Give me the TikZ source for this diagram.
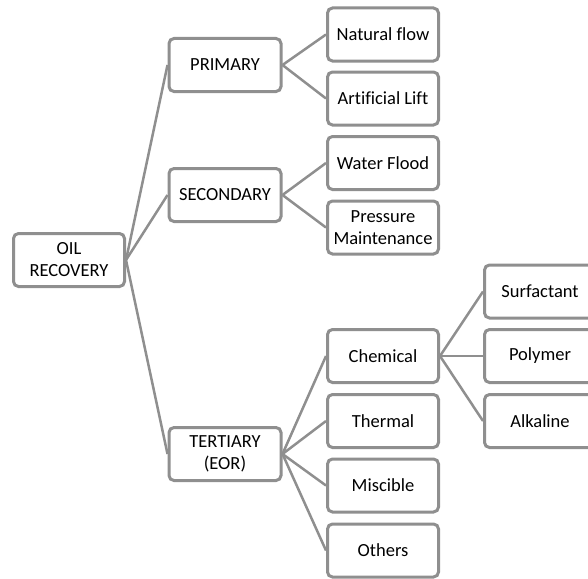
\documentclass[tikz,border=0pt]{standalone}
\usepackage{fontspec}
\setmainfont{Carlito}[Ligatures=NoCommon]
\definecolor{boxgray}{HTML}{8F8F8F}
\begin{document}
\begin{tikzpicture}[x=1pt,y=-1pt,
  box/.style={draw=boxgray, line width=3pt, rounded corners=5pt, fill=white,
    minimum width=111pt, minimum height=53pt, align=center, inner sep=1pt,
    font=\fontsize{18.5}{22}\selectfont, text=black},
  link/.style={draw=boxgray, line width=2.5pt}]
\useasboundingbox (0,0) rectangle (588,578);
\begin{scope}
\clip (0,0) rectangle (588,578);
% level 0
\node[box] (oil) at (69,260) {OIL\\RECOVERY};
% level 1
\node[box, minimum width=112pt] (pri) at (225,65) {PRIMARY};
\node[box, minimum width=112pt] (sec) at (225,195) {SECONDARY};
\node[box, minimum width=112pt] (ter) at (225,454) {TERTIARY\\(EOR)};
% level 2
\node[box] (nat) at (383,34.5) {Natural flow};
\node[box] (art) at (383,98.5) {Artificial Lift};
\node[box] (wat) at (383,163) {Water Flood};
\node[box] (pre) at (383,227.5) {Pressure\\Maintenance};
\node[box] (che) at (383,356) {Chemical};
\node[box] (the) at (383,421) {Thermal};
\node[box] (mis) at (383,485.5) {Miscible};
\node[box] (oth) at (383,550.5) {Others};
% level 3
\node[box] (sur) at (540,291.5) {Surfactant};
\node[box] (pol) at (540,356) {Polymer};
\node[box] (alk) at (540,421) {Alkaline};
% connectors
\foreach \c in {pri,sec,ter} \draw[link] (oil.east) -- (\c.west);
\foreach \c in {nat,art} \draw[link] (pri.east) -- (\c.west);
\foreach \c in {wat,pre} \draw[link] (sec.east) -- (\c.west);
\foreach \c in {che,the,mis,oth} \draw[link] (ter.east) -- (\c.west);
\foreach \c in {sur,pol,alk} \draw[link] (che.east) -- (\c.west);
\end{scope}
\end{tikzpicture}
\end{document}
